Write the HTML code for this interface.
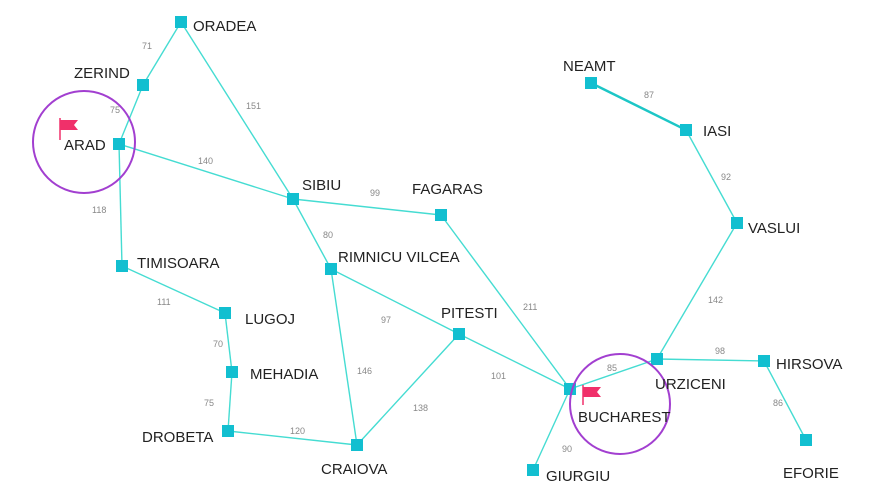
<!DOCTYPE html>
<html><head><meta charset="utf-8"><style>
html,body{margin:0;padding:0;background:#fff;width:890px;height:503px;overflow:hidden}
svg text{font-family:"Liberation Sans",sans-serif}
.l{font-size:15px;fill:#222}
.d{font-size:9px;fill:#888}
</style></head><body>
<svg width="890" height="503" viewBox="0 0 890 503">
<g stroke="#45dcd2" stroke-width="1.4" fill="none">
<line x1="181" y1="22" x2="143" y2="85"/>
<line x1="181" y1="22" x2="293" y2="199"/>
<line x1="143" y1="85" x2="119" y2="144"/>
<line x1="119" y1="144" x2="293" y2="199"/>
<line x1="119" y1="144" x2="122" y2="266"/>
<line x1="293" y1="199" x2="441" y2="215"/>
<line x1="293" y1="199" x2="331" y2="269"/>
<line x1="122" y1="266" x2="225" y2="313"/>
<line x1="225" y1="313" x2="232" y2="372"/>
<line x1="232" y1="372" x2="228" y2="431"/>
<line x1="228" y1="431" x2="357" y2="445"/>
<line x1="331" y1="269" x2="357" y2="445"/>
<line x1="331" y1="269" x2="459" y2="334"/>
<line x1="459" y1="334" x2="357" y2="445"/>
<line x1="459" y1="334" x2="570" y2="389"/>
<line x1="441" y1="215" x2="570" y2="389"/>
<line x1="570" y1="389" x2="533" y2="470"/>
<line x1="570" y1="389" x2="657" y2="359"/>
<line x1="657" y1="359" x2="764" y2="361"/>
<line x1="764" y1="361" x2="806" y2="440"/>
<line x1="657" y1="359" x2="737" y2="223"/>
<line x1="737" y1="223" x2="686" y2="130"/>
<line x1="591" y1="83" x2="686" y2="130" stroke="#1cc6c6" stroke-width="2.4"/>
</g>
<g fill="#12bfd0">
<rect x="175" y="16" width="12" height="12"/>
<rect x="137" y="79" width="12" height="12"/>
<rect x="113" y="138" width="12" height="12"/>
<rect x="287" y="193" width="12" height="12"/>
<rect x="435" y="209" width="12" height="12"/>
<rect x="116" y="260" width="12" height="12"/>
<rect x="325" y="263" width="12" height="12"/>
<rect x="219" y="307" width="12" height="12"/>
<rect x="453" y="328" width="12" height="12"/>
<rect x="226" y="366" width="12" height="12"/>
<rect x="222" y="425" width="12" height="12"/>
<rect x="351" y="439" width="12" height="12"/>
<rect x="564" y="383" width="12" height="12"/>
<rect x="527" y="464" width="12" height="12"/>
<rect x="651" y="353" width="12" height="12"/>
<rect x="758" y="355" width="12" height="12"/>
<rect x="800" y="434" width="12" height="12"/>
<rect x="731" y="217" width="12" height="12"/>
<rect x="680" y="124" width="12" height="12"/>
<rect x="585" y="77" width="12" height="12"/>
</g>
<g fill="none" stroke="#a23fd0" stroke-width="2">
<circle cx="84" cy="142" r="51"/>
<circle cx="620" cy="404" r="50"/>
</g>
<g>
<line x1="60" y1="118" x2="60" y2="140" stroke="#f0306a" stroke-width="1.5"/>
<path d="M60 120 H78 L74 125 L78 130 H60 Z" fill="#f0306a"/>
<line x1="583" y1="385" x2="583" y2="405" stroke="#f0306a" stroke-width="1.5"/>
<path d="M583 387 H601 L597 392 L601 397 H583 Z" fill="#f0306a"/>
</g>
<g class="l">
<text x="193" y="31">ORADEA</text>
<text x="74" y="78">ZERIND</text>
<text x="64" y="150">ARAD</text>
<text x="302" y="190">SIBIU</text>
<text x="412" y="194">FAGARAS</text>
<text x="137" y="268">TIMISOARA</text>
<text x="338" y="262">RIMNICU VILCEA</text>
<text x="245" y="324">LUGOJ</text>
<text x="441" y="318">PITESTI</text>
<text x="250" y="379">MEHADIA</text>
<text x="142" y="442">DROBETA</text>
<text x="321" y="474">CRAIOVA</text>
<text x="578" y="422">BUCHAREST</text>
<text x="546" y="481">GIURGIU</text>
<text x="655" y="389">URZICENI</text>
<text x="776" y="369">HIRSOVA</text>
<text x="783" y="478">EFORIE</text>
<text x="748" y="233">VASLUI</text>
<text x="703" y="136">IASI</text>
<text x="563" y="71">NEAMT</text>
</g>
<g class="d">
<text x="142" y="49">71</text>
<text x="110" y="113">75</text>
<text x="246" y="109">151</text>
<text x="198" y="164">140</text>
<text x="92" y="213">118</text>
<text x="370" y="196">99</text>
<text x="323" y="238">80</text>
<text x="157" y="305">111</text>
<text x="381" y="323">97</text>
<text x="213" y="347">70</text>
<text x="204" y="406">75</text>
<text x="290" y="434">120</text>
<text x="357" y="374">146</text>
<text x="413" y="411">138</text>
<text x="491" y="379">101</text>
<text x="523" y="310">211</text>
<text x="562" y="452">90</text>
<text x="607" y="371">85</text>
<text x="715" y="354">98</text>
<text x="773" y="406">86</text>
<text x="708" y="303">142</text>
<text x="721" y="180">92</text>
<text x="644" y="98">87</text>
</g>
</svg>
</body></html>
